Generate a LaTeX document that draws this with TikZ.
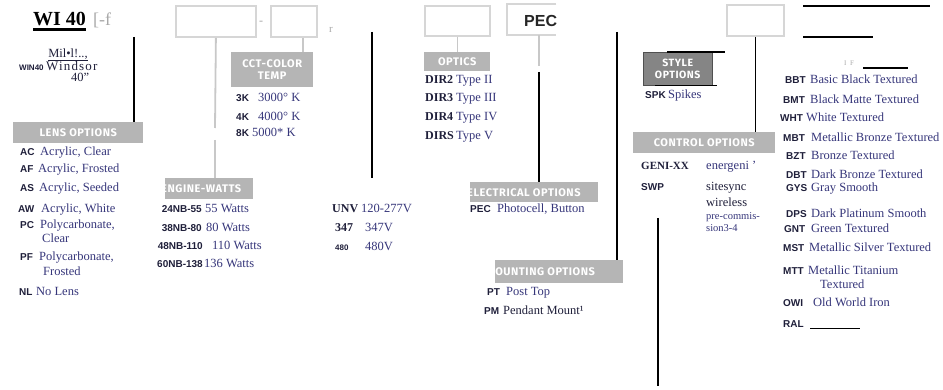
\documentclass[tikz,border=0pt]{standalone}
\usepackage{fontspec}
\setmainfont{Liberation Serif}
\newfontfamily\codef{Liberation Sans}
\newfontfamily\barf[LetterSpace=5]{Fira Sans}
\newfontfamily\widef[LetterSpace=9]{Liberation Serif}
\definecolor{codecol}{HTML}{1F1F3A}
\definecolor{desccol}{HTML}{36367A}
\definecolor{bargray}{HTML}{B5B5B5}
\definecolor{boxgray}{HTML}{D6D6D6}
\definecolor{linegray}{HTML}{C8C8C8}
\definecolor{markgray}{HTML}{A8A8A8}
\definecolor{stylegray}{HTML}{858585}
\begin{document}
\begin{tikzpicture}[x=1pt,y=-1pt,
 code/.style={font=\codef\bfseries\fontsize{10}{10}\selectfont, text=codecol, anchor=base west, inner sep=0pt},
 desc/.style={font=\fontsize{12.5}{12.5}\selectfont, text=desccol, anchor=base west, inner sep=0pt},
 scode/.style={font=\bfseries\fontsize{12}{12}\selectfont, text=codecol, anchor=base west, inner sep=0pt},
 fbox/.style={draw=boxgray, line width=1.8pt, fill=white, anchor=north west, inner sep=0pt},
 bar/.style={fill=bargray, anchor=north west, inner sep=0pt, text=white, font=\barf\bfseries\fontsize{11}{12.5}\selectfont, align=center},
 bartext/.style={text=white, font=\barf\bfseries\fontsize{11}{12}\selectfont, inner sep=0pt},
 gline/.style={draw=linegray, line width=1.8pt},
 bline/.style={draw=black, line width=1.5pt},
 markt/.style={text=markgray, inner sep=0pt, anchor=base west}
]
\useasboundingbox (0,0) rectangle (943,390);

% ---------- header, left
\node[font=\bfseries\fontsize{20}{20}\selectfont, anchor=base west, inner sep=0pt] (wi) at (33,26) {WI 40};
\draw[line width=2.2pt] ([yshift=-3.5pt]wi.base west) -- ([yshift=-3.5pt]wi.base east);
\node[markt, font=\fontsize{18}{18}\selectfont] (wib) at (93,26) {[-f};
\node[desc, anchor=base, text=codecol] (mil) at (68,58) {Mil•l!..,};
\draw[codecol, line width=0.8pt] ([yshift=-2.5pt]mil.base west) -- ([yshift=-2.5pt]mil.base east);
\node[code, font=\codef\bfseries\fontsize{8}{8}\selectfont] (win) at (19,71) {WIN40};
\node[desc, font=\widef\fontsize{13}{13}\selectfont, text=codecol] (winname) at (46,71) {Windsor};
\node[desc, text=codecol] (win40) at (71,82) {40''};
\coordinate (l1a) at (134,37); \coordinate (l1b) at (134,123);
\draw[bline] (l1a) -- (l1b);

% ---------- lens options
\node[bar, minimum width=130pt, minimum height=21pt] (lens) at (13,122) {LENS OPTIONS};
\node[code] (ac) at (20,156) {AC}; \node[desc] (acd) at (40,156) {Acrylic, Clear};
\node[code] (af) at (20,173) {AF}; \node[desc] (afd) at (38,173) {Acrylic, Frosted};
\node[code] (as) at (20,192) {AS}; \node[desc] (asd) at (39,192) {Acrylic, Seeded};
\node[code] (aw) at (18,213) {AW}; \node[desc] (awd) at (41,213) {Acrylic, White};
\node[code] (pc) at (20,229) {PC}; \node[desc] (pcd) at (40,229) {Polycarbonate,};
\node[desc] (pcd2) at (42,243) {Clear};
\node[code] (pf) at (20,261) {PF}; \node[desc] (pfd) at (39,261) {Polycarbonate,};
\node[desc] (pfd2) at (43,276) {Frosted};
\node[code] (nl) at (19,296) {NL}; \node[desc] (nld) at (36,296) {No Lens};

% ---------- top boxes 1,2
\node[fbox, minimum width=80pt, minimum height=31pt] (b1) at (175,5) {};
\node[markt, font=\fontsize{12}{12}\selectfont] (dash1) at (259,25) {-};
\node[fbox, minimum width=46pt, minimum height=31pt] (b2) at (270,5) {};
\node[markt, font=\fontsize{11}{11}\selectfont] (rmark) at (329,33) {r};

% CCT
\node[bar, minimum width=82pt, minimum height=35pt] (cct) at (231,52) {CCT-COLOR\\TEMP};
\draw[gline] ([xshift=9pt]b2.south) -- ([xshift=9pt]b2.south |- cct.north);
\node[code] (k3) at (236,102) {3K}; \node[desc] (k3d) at (258,102) {3000° K};
\node[code] (k4) at (236,121) {4K}; \node[desc] (k4d) at (258,121) {4000° K};
\node[code] (k5) at (236,137) {8K}; \node[desc] (k5d) at (252,137) {5000* K};

% engine watts
\node[bar, minimum width=88pt, minimum height=21pt] (eng) at (165,178) {};
\begin{scope}
\clip (eng.south west) rectangle (eng.north east);
\node[bartext, anchor=west] (engt) at ([xshift=-4pt]eng.west) {ENGINE-WATTS};
\end{scope}
\coordinate (g1) at (215,128); \coordinate (g2) at (215,140);
\draw[gline] (b1.south) -- (g1);
\draw[gline] (g2) -- (g2 |- eng.north);
\node[code, anchor=base east] (w55) at (202,213) {24NB-55}; \node[desc] (w55d) at (205,213) {55 Watts};
\node[code, anchor=base east] (w80) at (202,232) {38NB-80}; \node[desc] (w80d) at (206,232) {80 Watts};
\node[code, anchor=base east] (w110) at (203,250) {48NB-110}; \node[desc] (w110d) at (212,250) {110 Watts};
\node[code, anchor=base east] (w136) at (203,268) {60NB-138}; \node[desc] (w136d) at (204,268) {136 Watts};

% voltage
\coordinate (l2a) at (372,32); \coordinate (l2b) at (372,178);
\draw[bline] (l2a) -- (l2b);
\node[scode] (unv) at (332,213) {UNV}; \node[desc] (unvd) at (361,213) {120-277V};
\node[scode] (v347) at (335,232) {347}; \node[desc] (v347d) at (365,232) {347V};
\node[code, font=\codef\bfseries\fontsize{8}{8}\selectfont] (v480) at (335,251) {480}; \node[desc] (v480d) at (365,251) {480V};

% ---------- optics
\node[fbox, minimum width=65pt, minimum height=30pt] (b3) at (424,5) {};
\node[bar, minimum width=66pt, minimum height=19pt] (opt) at (424,52) {OPTICS};
\draw[gline] (b3.south) -- (b3.south |- opt.north);
\node[scode] (d2) at (425,84) {DIR2}; \node[desc] (d2d) at (456,84) {Type II};
\node[scode] (d3) at (425,102) {DIR3}; \node[desc] (d3d) at (456,102) {Type III};
\node[scode] (d4) at (425,121) {DIR4}; \node[desc] (d4d) at (456,121) {Type IV};
\node[scode] (d5) at (425,140) {DIRS}; \node[desc] (d5d) at (456,140) {Type V};

% ---------- PEC
\node[fill=white, anchor=north west, minimum width=49pt, minimum height=31pt, inner sep=0pt] (pecbox) at (507,4) {};
\draw[boxgray, line width=1.8pt] (pecbox.north east) -- (pecbox.north west) -- (pecbox.south west) -- (pecbox.south east);
\node[font=\codef\bfseries\fontsize{16}{16}\selectfont, text=black!85, anchor=base west, inner sep=0pt] (pec) at (524,27) {PEC};
\node[bar, minimum width=128pt, minimum height=20pt] (elec) at (470,182) {};
\begin{scope}
\clip (elec.south west) rectangle (elec.north east);
\node[bartext, anchor=west] (elect) at ([xshift=-3pt]elec.west) {ELECTRICAL OPTIONS};
\end{scope}
\coordinate (p1) at (539,66); \coordinate (p2) at (539,72);
\draw[gline] (pecbox.south -| p1) -- (p1);
\draw[bline] (p2) -- (p2 |- elec.north);
\node[code] (pecc) at (470,213) {PEC}; \node[desc] (peccd) at (497,213) {Photocell, Button};

% ---------- mounting
\node[bar, minimum width=128pt, minimum height=23pt] (mount) at (495,260) {};
\begin{scope}
\clip (mount.south west) rectangle (mount.north east);
\node[bartext, anchor=west] (mountt) at ([xshift=-9pt]mount.west) {MOUNTING OPTIONS};
\end{scope}
\coordinate (l3a) at (617,32);
\draw[bline] (l3a) -- (l3a |- mount.north);
\node[code] (pt) at (487,296) {PT}; \node[desc] (ptd) at (506,296) {Post Top};
\node[code] (pm) at (484,314) {PM}; \node[desc, text=codecol] (pmd) at (503,314) {Pendant Mount¹};

\coordinate (l4a) at (658,218); \coordinate (l4b) at (658,386);
\draw[bline] (l4a) -- (l4b);

% ---------- style options
\node[fill=stylegray, draw=stylegray!60!black, anchor=north west, minimum width=69pt, minimum height=33pt, inner sep=0pt, text=white, font=\barf\bfseries\fontsize{10.5}{11.5}\selectfont, align=center] (style) at (643,52) {STYLE\\OPTIONS};
\draw[line width=1.3pt] ([xshift=24pt]style.north west) -- ([xshift=13pt]style.north east);
\draw[line width=1.3pt] ([xshift=12pt]style.south west) -- ([xshift=5pt]style.south east);
\node[code] (spk) at (645,99) {SPK}; \node[desc] (spkd) at (668,99) {Spikes};

% ---------- control options
\node[fbox, minimum width=57pt, minimum height=31pt] (b5) at (726,4) {};
\node[bar, minimum width=142pt, minimum height=21pt] (ctrl) at (633,132) {CONTROL OPTIONS};
\draw[bline] (b5.south) -- (b5.south |- ctrl.north);
\node[scode, font=\bfseries\fontsize{11}{11}\selectfont] (geni) at (641,170) {GENI-XX}; \node[desc] (genid) at (706,170) {energeni '};
\node[code] (swp) at (641,191) {SWP};
\node[desc, text=codecol] (swpd1) at (706,191) {sitesync};
\node[desc, text=codecol] (swpd2) at (706,207) {wireless};
\node[desc, font=\fontsize{10.5}{10.5}\selectfont] (swpd3) at (706,220) {pre-commis-};
\node[desc, font=\fontsize{10.5}{10.5}\selectfont] (swpd4) at (706,232) {sion3-4};

% ---------- top right
\coordinate (t1a) at (803,6); \coordinate (t1b) at (930,6);
\draw[line width=1.3pt] (t1a) -- (t1b);
\coordinate (t2a) at (803,37); \coordinate (t2b) at (873,37);
\draw[line width=1.3pt] (t2a) -- (t2b);
\node[markt, font=\fontsize{7}{7}\selectfont] (ifm) at (844,66) {I\enspace F};
\coordinate (t3a) at (863,68); \coordinate (t3b) at (908,68);
\draw[line width=1.1pt] (t3a) -- (t3b);

% ---------- finishes
\node[code] (bbt) at (785,84) {BBT}; \node[desc] (bbtd) at (810,84) {Basic Black Textured};
\node[code] (bmt) at (783,104) {BMT}; \node[desc] (bmtd) at (810,104) {Black Matte Textured};
\node[code] (wht) at (780,122) {WHT}; \node[desc] (whtd) at (806,122) {White Textured};
\node[code] (mbt) at (783,142) {MBT}; \node[desc] (mbtd) at (811,142) {Metallic Bronze Textured};
\node[code] (bzt) at (786,160) {BZT}; \node[desc] (bztd) at (811,160) {Bronze Textured};
\node[code] (dbt) at (786,179) {DBT}; \node[desc] (dbtd) at (811,179) {Dark Bronze Textured};
\node[code] (gys) at (786,192) {GYS}; \node[desc] (gysd) at (811,192) {Gray Smooth};
\node[code] (dps) at (786,218) {DPS}; \node[desc] (dpsd) at (811,218) {Dark Platinum Smooth};
\node[code] (gnt) at (784,233) {GNT}; \node[desc] (gntd) at (811,233) {Green Textured};
\node[code] (mst) at (783,252) {MST}; \node[desc] (mstd) at (809,252) {Metallic Silver Textured};
\node[code] (mtt) at (783,275) {MTT}; \node[desc] (mttd) at (808,275) {Metallic Titanium};
\node[desc] (mttd2) at (820,288) {Textured};
\node[code] (owi) at (783,307) {OWI}; \node[desc] (owid) at (813,307) {Old World Iron};
\node[code] (ral) at (783,327) {RAL};
\coordinate (rla) at (810,328); \coordinate (rlb) at (860,328);
\draw[line width=1pt] (rla) -- (rlb);
\end{tikzpicture}
\end{document}
